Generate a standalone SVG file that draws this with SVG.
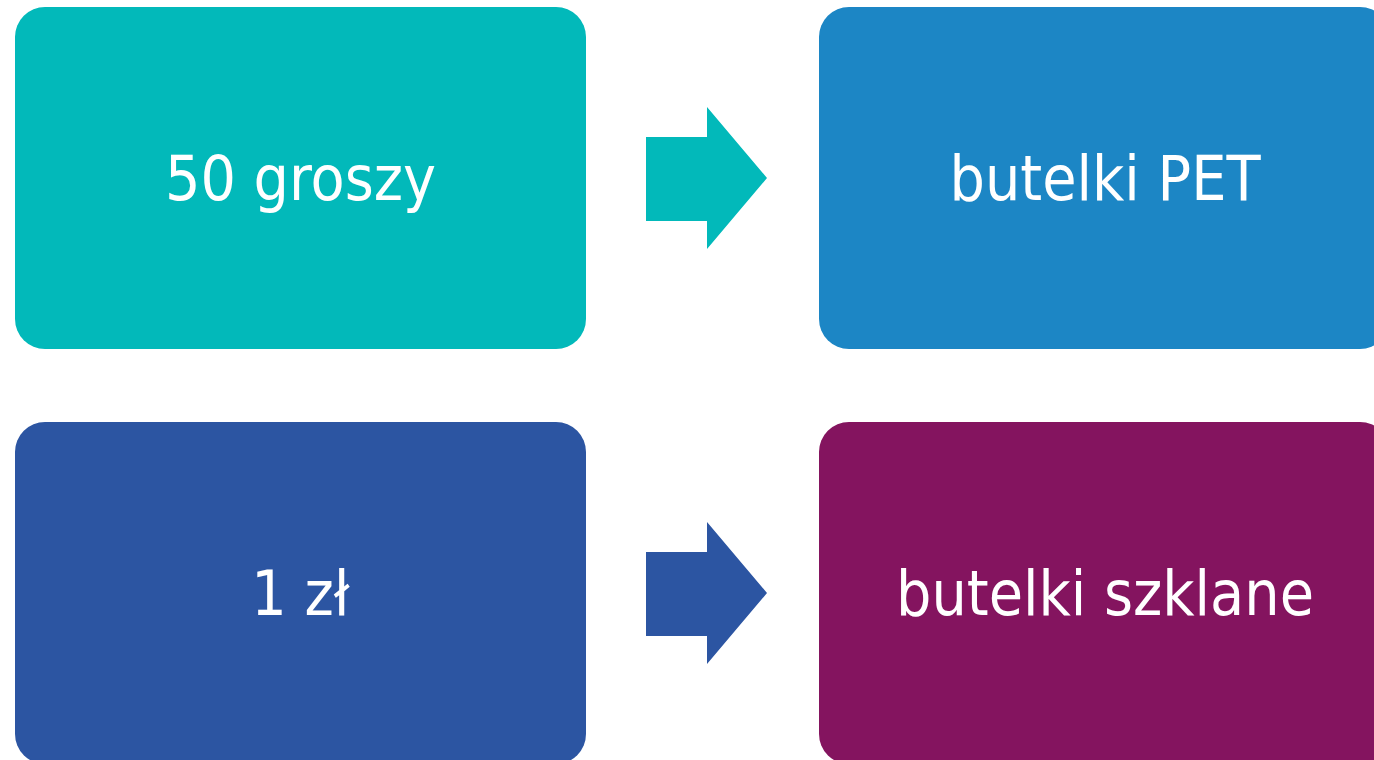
<svg xmlns="http://www.w3.org/2000/svg" width="1374" height="760" viewBox="0 0 1374 760">
  <style>
    .box { stroke: none; }
    .label { font-family: "DejaVu Sans Condensed", "DejaVu Sans", sans-serif; font-size: 62px; fill: #ffffff; text-anchor: middle; }
  </style>
  <rect width="1374" height="760" fill="#ffffff"/>

  <g id="node-50-groszy">
    <rect class="box" x="15" y="7" width="571" height="342" rx="30" fill="#02B9BA"/>
    <text class="label" x="300.5" y="200">50 groszy</text>
  </g>

  <g id="node-butelki-pet">
    <rect class="box" x="819" y="7" width="571" height="342" rx="30" fill="#1C86C5"/>
    <text class="label" x="1105" y="200">butelki PET</text>
  </g>

  <g id="node-1-zl">
    <rect class="box" x="15" y="422" width="571" height="342" rx="30" fill="#2C55A2"/>
    <text class="label" x="300.5" y="615">1 zł</text>
  </g>

  <g id="node-butelki-szklane">
    <rect class="box" x="819" y="422" width="571" height="342" rx="30" fill="#84145F"/>
    <text class="label" x="1105" y="615">butelki szklane</text>
  </g>

  <g id="connectors">
    <polygon points="646,137 707,137 707,107 767,178 707,249 707,221 646,221" fill="#02B9BA"/>
    <polygon points="646,552 707,552 707,522 767,593 707,664 707,636 646,636" fill="#2C55A2"/>
  </g>
</svg>
